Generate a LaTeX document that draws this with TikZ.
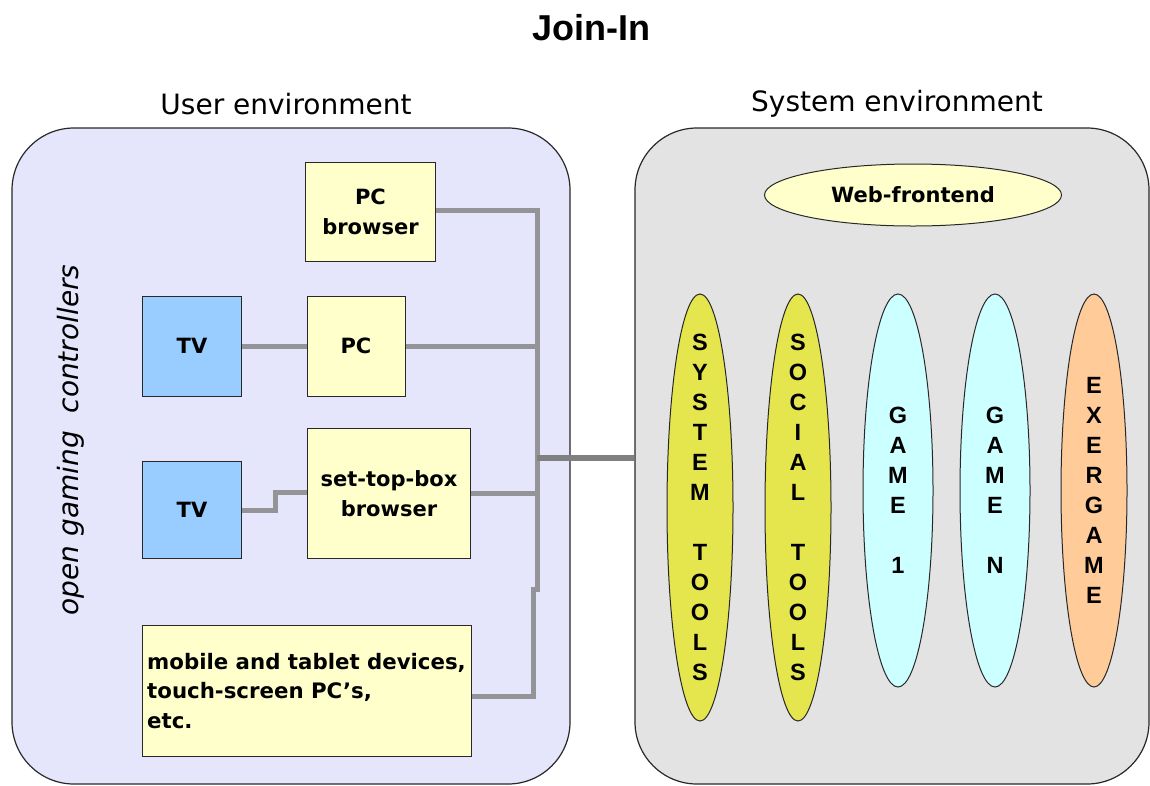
\documentclass[tikz,border=0pt]{standalone}
\usepackage{fontspec}
\setmainfont{DejaVu Sans}
\newfontfamily\arialf{Liberation Sans}
\usetikzlibrary{shapes.geometric}
\definecolor{userbg}{RGB}{229,229,251}
\definecolor{sysbg}{RGB}{227,227,227}
\definecolor{boxy}{RGB}{255,255,204}
\definecolor{tvblue}{RGB}{153,204,255}
\definecolor{olive}{RGB}{229,229,77}
\definecolor{cyanl}{RGB}{204,255,255}
\definecolor{orangel}{RGB}{255,204,153}
\definecolor{wirec}{RGB}{148,148,152}
\definecolor{hubc}{RGB}{128,128,130}
\definecolor{edgec}{RGB}{40,40,40}
\begin{document}
\begin{tikzpicture}[x=1pt,y=1pt,
 panel/.style={draw=edgec, line width=1.2pt, rounded corners=62pt, inner sep=0pt},
 devbox/.style={draw=edgec, line width=1pt, fill=boxy, inner sep=0pt, font=\bfseries\fontsize{21}{30}\selectfont, align=center},
 tvbox/.style={devbox, fill=tvblue},
 wire/.style={draw=wirec, line width=5pt},
 oval/.style={ellipse, draw=edgec, line width=1pt, inner sep=0pt},
 vlet/.style={font=\arialf\bfseries\fontsize{23.5}{30}\selectfont, align=center, inner sep=0pt},
 head/.style={font=\fontsize{28}{32}\selectfont, inner sep=0pt}
]
\useasboundingbox (0,0) rectangle (1150,-785);
% panels
\node[panel, fill=userbg, minimum width=558pt, minimum height=656pt] (userenv) at (291,-456) {};
\node[panel, fill=sysbg, minimum width=514pt, minimum height=656pt] (sysenv) at (892,-456) {};
% titles
\node[font=\arialf\bfseries\fontsize{36}{40}\selectfont, inner sep=0pt] (title) at (591,-28) {Join-In};
\node[head] (userlab) at (286,-104) {User environment};
\node[head] (syslab) at (897,-104) {System environment};
\node[rotate=90, font=\itshape\fontsize{28}{30}\selectfont, inner sep=0pt] (ogc) at (71,-440) {open gaming\ \ controllers};
% devices
\node[devbox, minimum width=130pt, minimum height=99pt] (pcb) at (370.5,-211.5) {PC\\browser};
\node[tvbox, minimum width=99pt, minimum height=100pt] (tv1) at (192,-346) {TV};
\node[devbox, minimum width=98pt, minimum height=100pt] (pc) at (356,-346) {PC};
\node[tvbox, minimum width=99pt, minimum height=97pt] (tv2) at (192,-510) {TV};
\node[devbox, minimum width=163pt, minimum height=130pt] (stb) at (389,-493.5) {set-top-box\\browser};
\node[devbox, minimum width=329pt, minimum height=131pt, align=left, font=\bfseries\fontsize{21.3}{29.5}\selectfont] (mob) at (306.5,-691) {mobile and tablet devices,\\touch-screen PC’s,\\etc.};
% system side
\node[oval, fill=boxy, minimum width=297pt, minimum height=62pt, font=\bfseries\fontsize{21}{24}\selectfont] (web) at (913,-195) {Web-frontend};
\node[oval, fill=olive, minimum width=66pt, minimum height=427pt] (systools) at (700,-507.5) {};
\node[vlet] (systxt) at (systools) {S\\Y\\S\\T\\E\\M\\[30pt]T\\O\\O\\L\\S};
\node[oval, fill=olive, minimum width=66pt, minimum height=427pt] (soctools) at (798,-507.5) {};
\node[vlet] (soctxt) at (soctools) {S\\O\\C\\I\\A\\L\\[30pt]T\\O\\O\\L\\S};
\node[oval, fill=cyanl, minimum width=70pt, minimum height=393pt] (game1) at (898,-490.5) {};
\node[vlet] (g1txt) at (game1) {G\\A\\M\\E\\[30pt]1};
\node[oval, fill=cyanl, minimum width=70pt, minimum height=393pt] (gamen) at (995,-490.5) {};
\node[vlet] (gntxt) at (gamen) {G\\A\\M\\E\\[30pt]N};
\node[oval, fill=orangel, minimum width=66pt, minimum height=393pt] (exer) at (1094,-490.5) {};
\node[vlet] (extxt) at (exer) {E\\X\\E\\R\\G\\A\\M\\E};
% wires
\coordinate (btop) at (537,-210);
\coordinate (bjoga) at (537,-592);
\coordinate (bjogb) at (533,-587);
\coordinate (bbot) at (533,-696);
\coordinate (bhub) at (537,-458);
\coordinate (tvjog) at (275,-492);
\draw[wire] (pcb.east |- btop) -- (btop) -- (bjoga);
\draw[wire] (bjogb) -- (bbot) -- (mob.east |- bbot);
\draw[wire] (pc.east) -- (pc.east -| btop);
\draw[wire] (tv1.east) -- (pc.west);
\draw[wire] (stb.east) -- (stb.east -| btop);
\draw[wire] (tv2.east) -| (tvjog) -- (tvjog -| stb.west);
\draw[wire, draw=hubc, line width=6pt] (bhub) -- (bhub -| sysenv.west);
\end{tikzpicture}
\end{document}
